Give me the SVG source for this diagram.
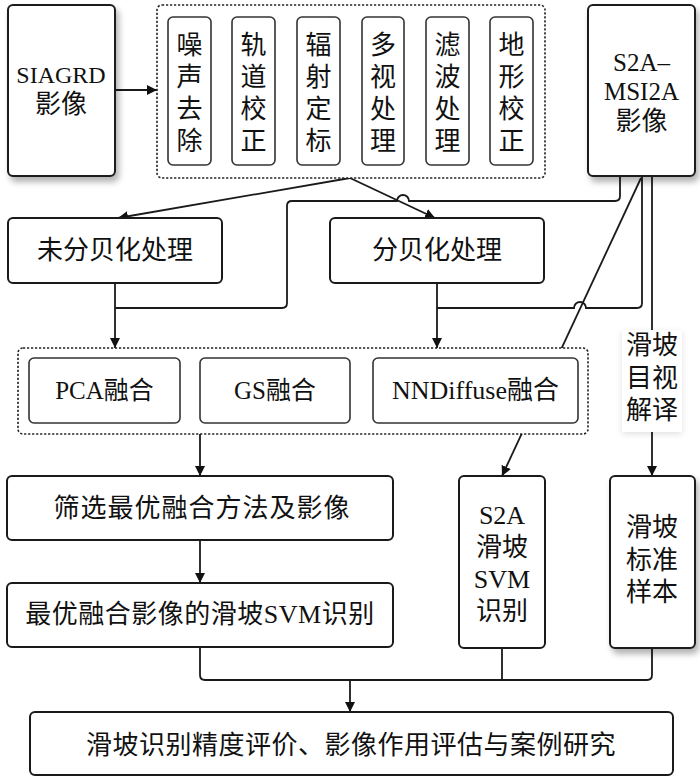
<svg xmlns="http://www.w3.org/2000/svg" width="700" height="778" viewBox="0 0 700 778">
<style>
.box{fill:#fff;stroke:#1a1a1a;stroke-width:2}
.inner{fill:#fff;stroke:#333;stroke-width:1.6}
.dash{fill:#fff;stroke:#222;stroke-width:1.6;stroke-dasharray:2.2 1.8}
.c{fill:none;stroke:#1a1a1a;stroke-width:1.8}
text{font-family:"Liberation Serif","Noto Sans CJK SC",serif;fill:#111;text-anchor:middle;dominant-baseline:central}
.t26{font-size:26px}
.t25{font-size:25px}
.t24{font-size:24px}
</style>
<defs>
<marker id="ah" viewBox="0 0 10 10" refX="10" refY="5" markerWidth="10" markerHeight="10" markerUnits="userSpaceOnUse" orient="auto">
<path d="M0,0 L10,5 L0,10 z" fill="#111"/>
</marker>
<filter id="sh" x="-20%" y="-20%" width="150%" height="150%">
<feDropShadow dx="3" dy="5" stdDeviation="3" flood-color="#000" flood-opacity="0.3"/>
</filter>
<filter id="sh2" x="-30%" y="-20%" width="160%" height="140%">
<feDropShadow dx="0" dy="2" stdDeviation="3" flood-color="#000" flood-opacity="0.12"/>
</filter>
</defs>

<g id="connectors">
<path class="c" d="M115,90 H157" marker-end="url(#ah)"/>
<path class="c" d="M350,178 L118,218" marker-end="url(#ah)"/>
<path class="c" d="M350,178 L435,218" marker-end="url(#ah)"/>
<path class="c" d="M620,176 V196 Q620,201 615,201 H409 A6,6 0 0 0 397,201 H292 Q287,201 287,206 V303 Q287,308 282,308 H115"/>
<path class="c" d="M115,283 V348" marker-end="url(#ah)"/>
<path class="c" d="M642,176 V303 Q642,308 637,308 H586 A6,6 0 0 0 574,308 H437"/>
<path class="c" d="M437,283 V348" marker-end="url(#ah)"/>
<path class="c" d="M641,178 L502,476" marker-end="url(#ah)"/>
<path class="c" d="M652,176 V476" marker-end="url(#ah)"/>
<path class="c" d="M200,434 V476" marker-end="url(#ah)"/>
<path class="c" d="M200,540 V583" marker-end="url(#ah)"/>
<path class="c" d="M200,647 V675 Q200,680 205,680 H647 Q652,680 652,675 V648"/>
<path class="c" d="M502,648 V680"/>
<path class="c" d="M350,680 V712" marker-end="url(#ah)"/>
</g>

<g id="siagrd">
<rect class="box" x="8" y="5" width="107" height="171" rx="5" filter="url(#sh)"/>
<text class="t24" x="61" y="75">SIAGRD</text>
<text class="t26" x="61" y="104">影像</text>
</g>

<g id="preprocess">
<rect class="dash" x="157" y="5" width="388" height="173" rx="5"/>
<g id="p1"><rect class="inner" x="168" y="17" width="43" height="148" rx="5"/>
<text class="t26" x="189.5" y="45">噪</text><text class="t26" x="189.5" y="77">声</text><text class="t26" x="189.5" y="109">去</text><text class="t26" x="189.5" y="141">除</text></g>
<g id="p2"><rect class="inner" x="232" y="17" width="43" height="148" rx="5"/>
<text class="t26" x="253.5" y="45">轨</text><text class="t26" x="253.5" y="77">道</text><text class="t26" x="253.5" y="109">校</text><text class="t26" x="253.5" y="141">正</text></g>
<g id="p3"><rect class="inner" x="297" y="17" width="43" height="148" rx="5"/>
<text class="t26" x="318.5" y="45">辐</text><text class="t26" x="318.5" y="77">射</text><text class="t26" x="318.5" y="109">定</text><text class="t26" x="318.5" y="141">标</text></g>
<g id="p4"><rect class="inner" x="362" y="17" width="42" height="148" rx="5"/>
<text class="t26" x="383" y="45">多</text><text class="t26" x="383" y="77">视</text><text class="t26" x="383" y="109">处</text><text class="t26" x="383" y="141">理</text></g>
<g id="p5"><rect class="inner" x="426" y="17" width="43" height="148" rx="5"/>
<text class="t26" x="447.5" y="45">滤</text><text class="t26" x="447.5" y="77">波</text><text class="t26" x="447.5" y="109">处</text><text class="t26" x="447.5" y="141">理</text></g>
<g id="p6"><rect class="inner" x="490" y="17" width="43" height="148" rx="5"/>
<text class="t26" x="511.5" y="45">地</text><text class="t26" x="511.5" y="77">形</text><text class="t26" x="511.5" y="109">校</text><text class="t26" x="511.5" y="141">正</text></g>
</g>

<g id="s2a">
<rect class="box" x="588" y="5" width="107" height="171" rx="5" filter="url(#sh)"/>
<text class="t25" x="641.5" y="62">S2A–</text>
<text class="t25" x="641.5" y="91">MSI2A</text>
<text class="t26" x="641.5" y="121">影像</text>
</g>

<g id="undb">
<rect class="box" x="8" y="218" width="214" height="65" rx="5"/>
<text class="t26" x="115" y="250">未分贝化处理</text>
</g>

<g id="db">
<rect class="box" x="330" y="218" width="214" height="65" rx="5"/>
<text class="t26" x="437" y="250">分贝化处理</text>
</g>

<g id="fusion">
<rect class="dash" x="18" y="348" width="570" height="86" rx="5"/>
<g id="pca"><rect class="inner" x="29" y="358" width="151" height="65" rx="5"/><text class="t25" x="104.5" y="390">PCA融合</text></g>
<g id="gs"><rect class="inner" x="200" y="358" width="150" height="65" rx="5"/><text class="t25" x="275" y="390">GS融合</text></g>
<g id="nnd"><rect class="inner" x="373" y="358" width="205" height="65" rx="5"/><text class="t26" x="475.5" y="390">NNDiffuse融合</text></g>
</g>

<g id="visual">
<rect x="622" y="330" width="60" height="102" fill="#fff" filter="url(#sh2)"/>
<text class="t26" x="652" y="345">滑坡</text>
<text class="t26" x="652" y="378">目视</text>
<text class="t26" x="652" y="410">解译</text>
</g>

<g id="select">
<rect class="box" x="7" y="476" width="386" height="64" rx="5"/>
<text class="t26" x="202" y="508" letter-spacing="1">筛选最优融合方法及影像</text>
</g>

<g id="bestsvm">
<rect class="box" x="7" y="583" width="386" height="64" rx="5"/>
<text class="t26" x="200" y="614" letter-spacing="0.5">最优融合影像的滑坡SVM识别</text>
</g>

<g id="s2asvm">
<rect class="box" x="459" y="476" width="86" height="172" rx="5"/>
<text class="t26" x="502" y="515">S2A</text>
<text class="t26" x="502" y="547">滑坡</text>
<text class="t26" x="502" y="579">SVM</text>
<text class="t26" x="502" y="611">识别</text>
</g>

<g id="sample">
<rect class="box" x="610" y="476" width="85" height="172" rx="5" filter="url(#sh)"/>
<text class="t26" x="652" y="527">滑坡</text>
<text class="t26" x="652" y="560">标准</text>
<text class="t26" x="652" y="592">样本</text>
</g>

<g id="eval">
<rect class="box" x="30" y="712" width="643" height="63" rx="5"/>
<text class="t26" x="351" y="745" letter-spacing="0.5">滑坡识别精度评价、影像作用评估与案例研究</text>
</g>
</svg>
